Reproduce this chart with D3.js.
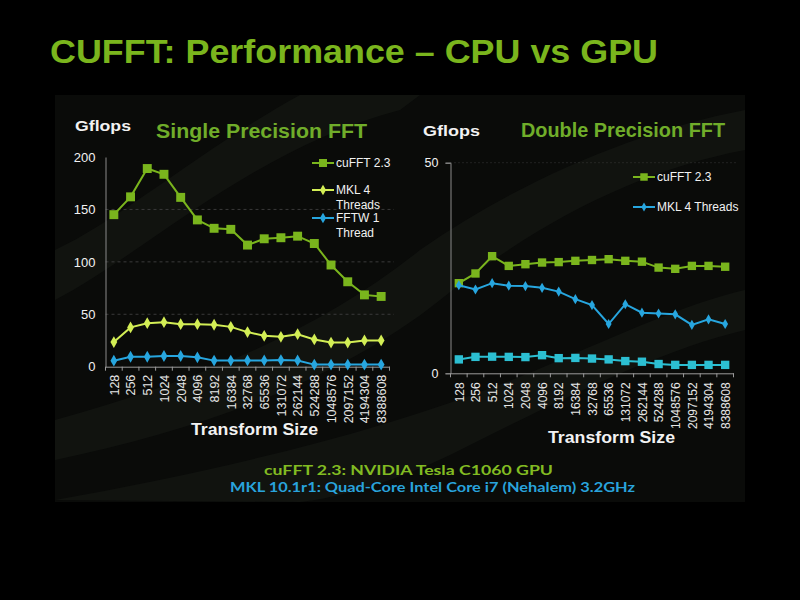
<!DOCTYPE html>
<html><head><meta charset="utf-8">
<script src="https://cdn.jsdelivr.net/npm/d3@7"></script>
<style>html,body{margin:0;padding:0;background:#000;}svg{display:block;}</style>
</head><body><svg id="c" width="800" height="600"></svg>
<script>
const sizes = ["128","256","512","1024","2048","4096","8192","16384","32768","65536","131072","262144","524288","1048576","2097152","4194304","8388608"];
const sizesDp = ["128","256","512","1024","2048","4096","8192","16384","32768","65536","131072","262144","524288","1048576","2097152","4194304","8388608"];
// Single precision (Gflops)
const spCufft = [145,162,189,183.5,161.5,140,132,131,116,122,123,124.5,117.5,97,81,68.5,67];
const spMkl   = [23.5,37.5,41.5,42.5,40.5,40.5,40,38,33,29.5,28.5,31,26,23,23,25,25];
const spFftw  = [5.7,9.5,9.5,10.2,10.2,9,5.8,5.8,6,6,6.3,6,2,2,2,2,2];
// Double precision (Gflops)
const dpCufft = [21.4,23.7,27.8,25.5,25.9,26.3,26.4,26.7,26.9,27.1,26.7,26.5,25.1,24.8,25.5,25.5,25.3];
const dpMkl   = [20.9,19.9,21.4,20.8,20.7,20.3,19.4,17.6,16.2,11.7,16.4,14.4,14.2,14.0,11.5,12.8,11.7];
const dpFftw  = [3.3,3.9,3.95,3.9,3.85,4.3,3.6,3.65,3.5,3.3,2.9,2.75,2.2,2.0,2.0,2.0,2.0];
const spYTicks = [0,50,100,150,200];
const dpYTicks = [0,50];
const spLegend = [["cuFFT 2.3"],["MKL 4","Threads"],["FFTW 1","Thread"]];
const dpLegend = [["cuFFT 2.3"],["MKL 4 Threads"]];

const svg = d3.select("#c");
svg.append("rect").attr("width",800).attr("height",600).attr("fill","#000");

// subtle background panel with swooshes
const bg = svg.append("g");
bg.append("rect").attr("x",55).attr("y",95).attr("width",690).attr("height",407).attr("fill","#0a0b09");
const sw = [
  "M55,300 C150,250 250,150 400,110 L420,95 L300,95 C200,150 120,220 55,250 Z",
  "M55,420 C200,380 320,330 420,250 C520,180 640,130 745,110 L745,150 C640,170 540,220 440,300 C340,380 200,430 55,460 Z",
  "M55,500 C220,470 400,430 560,360 C640,325 700,300 745,290 L745,330 C660,350 560,400 460,450 C380,490 320,500 300,502 Z"
];
bg.selectAll("path.sw").data(sw).join("path").attr("d",d=>d).attr("fill","#131511").attr("opacity",0.8);

const green = "#7ab51d";
const white = "#f2f2f2";

svg.append("text").attr("x",50).attr("y",62.5).attr("fill",green)
  .attr("font-family","Liberation Sans Narrow, Arial Narrow, Liberation Sans, sans-serif").attr("font-weight","bold").attr("font-size",33.5)
  .attr("textLength",608).attr("lengthAdjust","spacingAndGlyphs")
  .text("CUFFT: Performance \u2013 CPU vs GPU");

function panel(cfg){
  const g = svg.append("g");
  const x = d3.scalePoint().domain(cfg.cats).range(cfg.xr).padding(0.5);
  const y = d3.scaleLinear().domain(cfg.yd).range(cfg.yr);
  // headers
  g.append("text").attr("x",cfg.gfx).attr("y",cfg.gfy).attr("fill",white)
    .attr("font-family","Liberation Sans, Arial, sans-serif").attr("font-weight","bold").attr("font-size",15.5)
    .attr("textLength",cfg.gfw).attr("lengthAdjust","spacingAndGlyphs").text("Gflops");
  g.append("text").attr("x",cfg.tx).attr("y",cfg.ty).attr("fill","#70ad2a")
    .attr("font-family","Liberation Sans, Arial, sans-serif").attr("font-weight","bold").attr("font-size",19.5)
    .attr("textLength",cfg.tw).attr("lengthAdjust","spacingAndGlyphs").text(cfg.title);
  // grid
  g.append("g").selectAll("line").data(cfg.grid).join("line")
    .attr("x1",cfg.xr[0]).attr("x2",cfg.gridEnd).attr("y1",d=>y(d)).attr("y2",d=>y(d))
    .attr("stroke","#3a3a3a").attr("stroke-width",1).attr("stroke-dasharray",cfg.dash);
  // y axis
  const ya = g.append("g").attr("transform",`translate(${cfg.xr[0]},0)`)
    .call(d3.axisLeft(y).tickValues(cfg.yticks).tickSize(cfg.ytick).tickPadding(cfg.ypad).tickFormat(d3.format("d")));
  ya.select(".domain").attr("stroke","#8a8a8a");
  ya.selectAll(".tick line").attr("stroke","#8a8a8a");
  ya.selectAll("text").attr("fill",white).attr("font-family","Liberation Sans, Arial, sans-serif").attr("font-size",cfg.yfs);
  // x axis
  const xa = g.append("g").attr("transform",`translate(0,${cfg.yr[0]})`)
    .call(d3.axisBottom(x).tickSize(0).tickPadding(0));
  xa.select(".domain").attr("stroke","#9a9a9a");
  xa.selectAll(".tick text").attr("fill","#e6e6e6").attr("font-family","Liberation Sans, Arial, sans-serif")
    .attr("font-size",cfg.xfs).attr("text-anchor","end")
    .attr("transform",`translate(0,${cfg.xlab}) rotate(-90)`).attr("dy","0.35em").attr("y",0).attr("x",0);
  // boundary ticks
  const step = x.step();
  const bounds = d3.range(cfg.cats.length+1).map(i=>cfg.xr[0]+i*step);
  xa.append("g").selectAll("line").data(bounds).join("line")
    .attr("x1",d=>d).attr("x2",d=>d).attr("y1",0).attr("y2",4).attr("stroke","#9a9a9a");
  // series
  const line = d3.line().x((d,i)=>x(cfg.cats[i])).y(d=>y(d));
  cfg.series.forEach(s=>{
    g.append("path").datum(s.values).attr("d",line).attr("fill","none").attr("stroke",s.color).attr("stroke-width",2);
    const sym = d3.symbol().type(s.shape==="square"?d3.symbolSquare:d3.symbolDiamond).size(s.size);
    g.append("g").selectAll("path").data(s.values).join("path")
      .attr("transform",(d,i)=>`translate(${x(cfg.cats[i])},${y(d)})`)
      .attr("d",sym).attr("fill",s.color);
  });
  // legend
  cfg.legend.forEach((lab,i)=>{
    const s = cfg.series[i];
    const ly = cfg.legY[i];
    g.append("line").attr("x1",cfg.legX).attr("x2",cfg.legX+22).attr("y1",ly).attr("y2",ly)
      .attr("stroke",s.color).attr("stroke-width",2);
    g.append("path").attr("transform",`translate(${cfg.legX+11},${ly})`)
      .attr("d",d3.symbol().type(s.shape==="square"?d3.symbolSquare:d3.symbolDiamond).size(s.size*0.8)).attr("fill",s.color);
    lab.forEach((t,j)=>{
      g.append("text").attr("x",cfg.legX+24).attr("y",ly+4+j*14.5).attr("fill",white)
        .attr("font-family","Liberation Sans, Arial, sans-serif").attr("font-size",12).text(t);
    });
  });
  // x title
  g.append("text").attr("x",cfg.xtx).attr("y",cfg.xty).attr("fill",white)
    .attr("font-family","Liberation Sans, Arial, sans-serif").attr("font-weight","bold").attr("font-size",17)
    .attr("textLength",cfg.xtw).attr("lengthAdjust","spacingAndGlyphs").text("Transform Size");
}

panel({
  cats:sizes, xr:[105.5,389.5], yd:[0,200], yr:[366.7,157],
  yticks:spYTicks, grid:[50,100,150], gridEnd:394, dash:"3,3", ytick:0, ypad:10, yfs:13,
  xfs:12.5, xlab:8,
  gfx:75, gfy:131, gfw:56, tx:156, ty:137.5, tw:211, title:"Single Precision FFT",
  series:[
    {values:spCufft,color:"#7ab51d",shape:"square",size:80},
    {values:spMkl,color:"#d3ee55",shape:"diamond",size:40},
    {values:spFftw,color:"#27a6df",shape:"diamond",size:40}
  ],
  legend:spLegend, legX:312, legY:[163,190,218],
  xtx:191, xty:435, xtw:127
});

panel({
  cats:sizesDp, xr:[450.5,733.5], yd:[0,50], yr:[373.3,162.7],
  yticks:dpYTicks, grid:[50], gridEnd:737, dash:"1,3", ytick:5, ypad:7, yfs:12.5,
  xfs:12, xlab:9,
  gfx:423, gfy:136, gfw:57, tx:521, ty:136.7, tw:204, title:"Double Precision FFT",
  series:[
    {values:dpCufft,color:"#7ab51d",shape:"square",size:70},
    {values:dpMkl,color:"#27a6df",shape:"diamond",size:30},
    {values:dpFftw,color:"#2cbfd2",shape:"square",size:70}
  ],
  legend:dpLegend, legX:633, legY:[177,207],
  xtx:548, xty:442.5, xtw:127
});

svg.append("text").attr("x",264).attr("y",474.5).attr("fill","#82bb22")
  .attr("font-family","Lato, Open Sans, sans-serif").attr("font-weight","bold").attr("font-size",14)
  .attr("textLength",289).attr("lengthAdjust","spacingAndGlyphs").text("cuFFT 2.3: NVIDIA Tesla C1060 GPU");
svg.append("text").attr("x",230).attr("y",491.5).attr("fill","#29a3dc")
  .attr("font-family","Lato, Open Sans, sans-serif").attr("font-weight","bold").attr("font-size",14)
  .attr("textLength",405).attr("lengthAdjust","spacingAndGlyphs").text("MKL 10.1r1: Quad-Core Intel Core i7 (Nehalem) 3.2GHz");
</script></body></html>
